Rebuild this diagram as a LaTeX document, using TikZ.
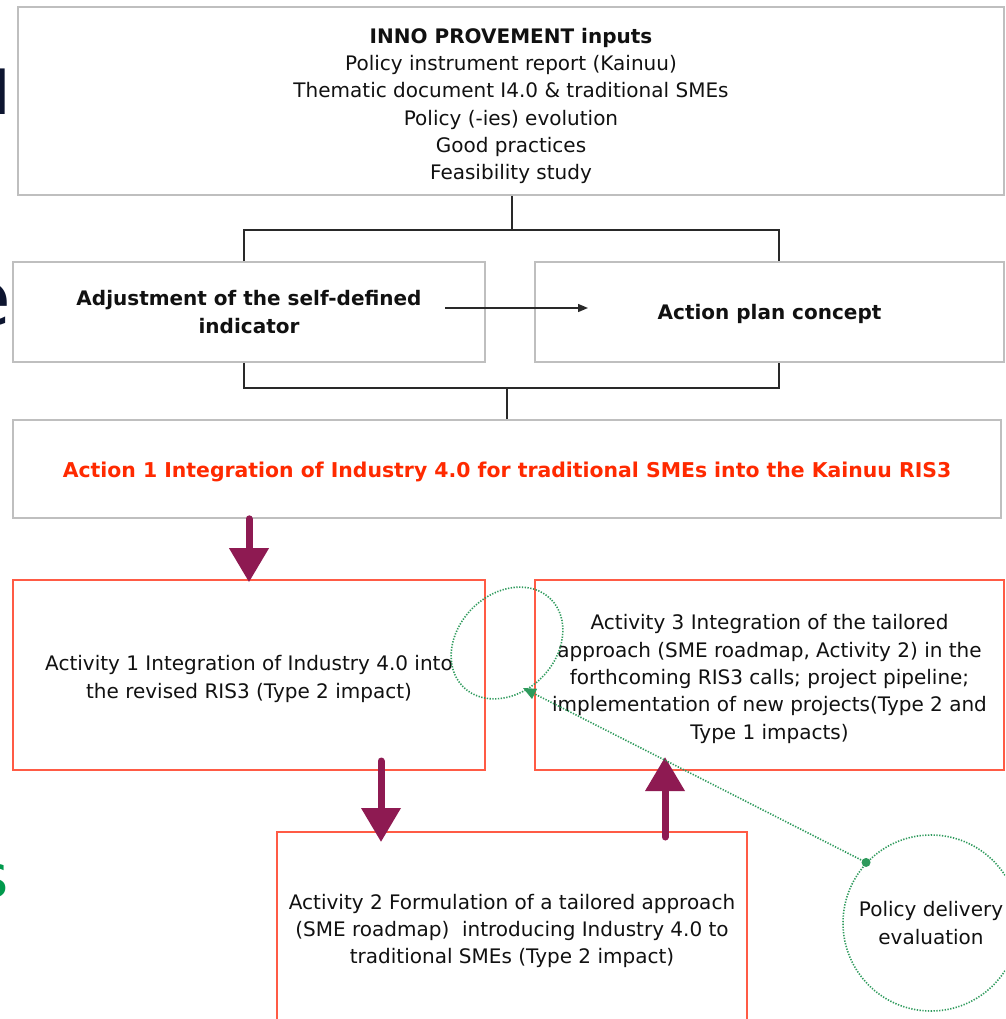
\documentclass[tikz,border=0pt]{standalone}
\usepackage{fontspec}
\setmainfont{DejaVu Sans}
\usetikzlibrary{arrows.meta,shapes.geometric}
\definecolor{boxgray}{HTML}{BFBFBF}
\definecolor{actred}{HTML}{FF2A00}
\definecolor{redline}{HTML}{FF5B45}
\definecolor{plum}{HTML}{8E1A52}
\definecolor{dotgreen}{HTML}{2E9A5C}
\definecolor{navy}{HTML}{0D1530}
\definecolor{sgreen}{HTML}{00994C}
\definecolor{ink}{HTML}{111111}
\begin{document}
\begin{tikzpicture}[x=1pt,y=-1pt,
  txt/.style={font=\fontsize{20}{27.3}\selectfont, text=ink, align=center},
  graybox/.style={txt, draw=boxgray, line width=1.6pt, rectangle, inner sep=0pt},
  redbox/.style={txt, draw=redline, line width=1.6pt, rectangle, inner sep=0pt},
  conn/.style={draw=ink!90, line width=1.4pt},
  fat/.style={draw=plum, line width=7pt, line cap=round, -{Triangle[length=34pt,width=38pt]}},
  gdot/.style={draw=dotgreen, line width=1.6pt, dash pattern=on 1.3pt off 1.5pt},
  bgletter/.style={anchor=base east, inner sep=0pt}
]
\clip (0,0) rectangle (1005,1019);
\fill[white] (0,0) rectangle (1005,1019);

% background slide fragments
\node[bgletter, text=navy, font=\fontsize{60}{60}\selectfont] (bgd) at (11,115) {d};
\node[bgletter, text=navy, font=\fontsize{76}{76}\selectfont] (bge) at (11,325) {e};
\node[bgletter, text=sgreen, font=\fontsize{60}{60}\selectfont] (bgs) at (9,897) {s};

% boxes
\node[graybox, minimum width=986pt, minimum height=188pt] (top) at (511,101) {};
\node[txt] (toptext) at (511,106)
  {\textbf{INNO PROVEMENT inputs}\\Policy instrument report (Kainuu)\\Thematic document I4.0 \& traditional SMEs\\Policy (-ies) evolution\\Good practices\\Feasibility study};
\node[graybox, minimum width=472pt, minimum height=100pt] (adj) at (249,312)
  {\textbf{Adjustment of the self-defined}\\\textbf{indicator}};
\node[graybox, minimum width=469pt, minimum height=100pt] (plan) at (769.5,312) {};
\node[txt] (plantext) at (769.5,314) {\textbf{Action plan concept}};
\node[graybox, minimum width=988pt, minimum height=98pt] (act) at (507,469) {};
\node[txt, text=actred, font=\fontsize{20.4}{27}\selectfont] (acttext) at (507,472)
  {\textbf{Action 1 Integration of Industry 4.0 for traditional SMEs into the Kainuu RIS3}};

\node[redbox, minimum width=472pt, minimum height=190pt] (act1) at (249,675) {};
\node[txt] (act1text) at (249,679)
  {Activity 1 Integration of Industry 4.0 into\\the revised RIS3 (Type 2 impact)};
\node[redbox, minimum width=469pt, minimum height=190pt] (act3) at (769.5,675) {};
\node[txt] (act3text) at (769.5,679)
  {Activity 3 Integration of the tailored\\approach (SME roadmap, Activity 2) in the\\forthcoming RIS3 calls; project pipeline;\\implementation of new projects(Type 2 and\\Type 1 impacts)};
\node[redbox, minimum width=470pt, minimum height=198pt] (act2) at (512,931)
  {Activity 2 Formulation of a tailored approach\\(SME roadmap)\ \ introducing Industry 4.0 to\\traditional SMEs (Type 2 impact)};

% policy evaluation circle and loop
\node[txt, gdot, circle, minimum size=176pt, inner sep=0pt] (pol) at (931,923) {Policy delivery\\evaluation};
\node[gdot, ellipse, minimum width=124pt, minimum height=98pt, rotate=45] (loop) at (507,643) {};

% bracket connectors
\coordinate (bl1) at (244,230);
\coordinate (br1) at (779,230);
\coordinate (bl2) at (244,388);
\coordinate (br2) at (779,388);
\draw[conn] (top.south -| 512,0) -- (bl1 -| 512,0);
\draw[conn] (adj.north -| bl1) -- (bl1) -- (br1) -- (plan.north -| br1);
\draw[conn] (adj.south -| bl2) -- (bl2) -- (br2) -- (plan.south -| br2);
\draw[conn] (act.north) -- (act.north |- bl2);

% arrow adjustment -> plan
\coordinate (ha) at (445,308);
\coordinate (hb) at (588,308);
\draw[conn, -{Triangle[length=10pt,width=8pt]}] (ha) -- (hb);

% fat arrows
\coordinate (d2s) at (381,761);
\coordinate (d2e) at (381,842);
\coordinate (u3s) at (665,837);
\coordinate (u3e) at (665,757);
\draw[fat] (act.south -| act1.north) -- ([yshift=-3pt]act1.north);
\draw[fat] (d2s) -- (d2e);
\draw[fat] (u3s) -- (u3e);

% evaluation feedback
\coordinate (gtip) at (523,688);
\fill[dotgreen] (pol.137) circle (4.5pt);
\draw[gdot, -{Triangle[length=13pt,width=11pt]}] (pol.137) -- (gtip);
\end{tikzpicture}
\end{document}
